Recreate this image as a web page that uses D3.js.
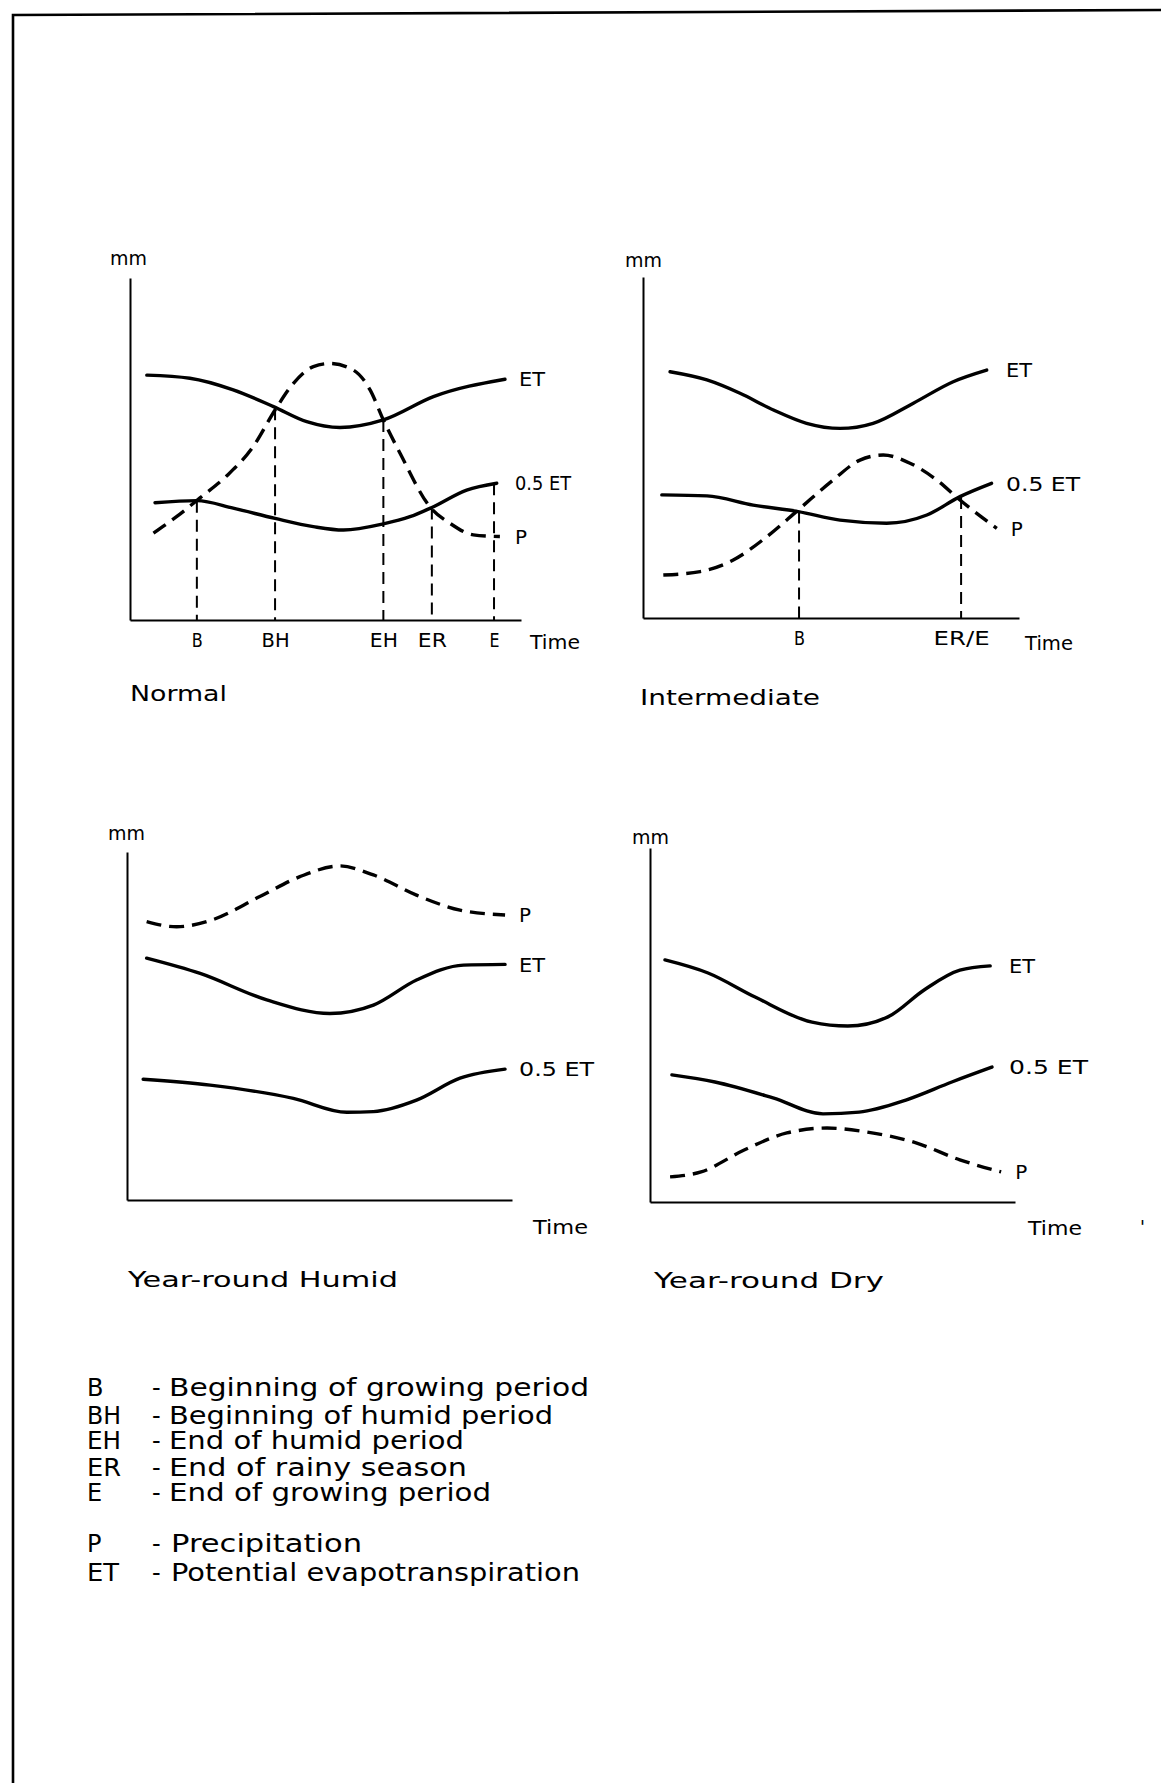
<!DOCTYPE html>
<html><head><meta charset="utf-8">
<script src="https://cdn.jsdelivr.net/npm/d3@7"></script>
<style>html,body{margin:0;padding:0;background:#fff;} svg{display:block;}</style>
</head><body>
<svg id="c" width="1161" height="1783"></svg>
<script>
// ---------------- DATA (relative time 0-100, relative mm 0-100) ----------------
// Normal
const normalEtT   = [4.3,15.3,26.4,36.7,45.2,53.7,64.8,77.6,95.9];
const normalEtV   = [71.6,70.7,67.3,62.4,58.0,56.3,58.5,65.3,70.4];
const normalHalfT = [6.4,17.1,26.4,37.1,46.9,54.6,64.8,71.6,77.2,86.1,93.8];
const normalHalfV = [34.3,34.9,32.7,29.7,27.3,26.3,28.1,30.2,32.9,38.0,40.0];
const normalPT    = [6.0,11.9,17.9,24.7,31.5,37.1,41.8,46.9,51.2,57.1,61.4,64.8,69.1,76.7,81.8,87.8,94.6];
const normalPV    = [25.4,30.2,35.7,42.1,50.7,61.4,69.2,74.1,75.0,73.1,67.3,58.5,48.7,33.1,28.3,24.9,24.4];
const normalMarkT     = [17.1,37.1,64.8,77.2,93.1];
const normalMarkTop   = [34.9,61.9,58.5,32.9,40.0];
const normalMarkLabel = ["B","BH","EH","ER","E"];
// Intermediate
const interEtT   = [7.2,17.0,25.8,34.7,43.5,52.4,61.2,71.9,82.5,91.4];
const interEtV   = [72.2,69.8,65.9,61.0,57.1,55.6,57.1,63.0,69.3,72.7];
const interHalfT = [5.0,17.0,29.3,41.3,52.4,64.8,75.5,84.3,92.7];
const interHalfV = [36.1,35.8,33.1,31.2,28.7,27.8,30.2,35.6,39.5];
const interPT    = [5.4,15.2,24.0,32.9,41.3,50.6,57.7,63.9,71.0,78.1,84.3,94.1];
const interPV    = [12.6,13.6,17.0,23.8,31.7,40.5,46.3,47.8,45.4,40.5,34.6,26.3];
const interMarkT     = [41.5,84.6];
const interMarkTop   = [31.2,35.5];
const interMarkLabel = ["B","ER/E"];
// Year-round Humid
const humidPT    = [5.1,12.9,21.6,34.5,44.9,55.3,64.0,75.2,86.5,98.2];
const humidPV    = [80.0,78.5,80.3,87.2,92.9,96.0,93.4,87.6,83.3,81.9];
const humidEtT   = [5.1,19.0,36.3,52.7,64.0,75.2,87.4,98.2];
const humidEtV   = [69.5,65.1,57.5,53.6,56.0,63.2,67.5,67.7];
const humidHalfT = [4.2,21.6,43.2,57.1,64.0,75.2,86.5,98.2];
const humidHalfV = [34.7,33.0,29.2,25.2,25.4,28.7,35.0,37.6];
// Year-round Dry
const dryEtT   = [4.1,15.9,28.8,44.4,54.2,65.2,75.1,84.9,93.2];
const dryEtV   = [68.4,64.7,57.9,50.8,49.7,52.3,59.9,65.5,66.7];
const dryHalfT = [6.0,17.8,33.7,47.4,57.3,70.1,82.7,93.7];
const dryHalfV = [35.9,33.9,29.4,24.9,25.4,28.8,33.9,38.1];
const dryPT    = [5.5,14.0,25.8,37.5,48.5,59.2,72.9,84.9,96.2];
const dryPV    = [7.1,8.5,14.7,19.5,20.9,19.8,16.7,11.9,8.5];

const panelTitles = ["Normal","Intermediate","Year-round Humid","Year-round Dry"];
const seriesNames = ["ET","0.5 ET","P"];
const axisYLabel = "mm";
const axisXLabel = "Time";

const legendAbbr = ["B","BH","EH","ER","E"];
const legendDesc = ["Beginning of growing period","Beginning of humid period","End of humid period","End of rainy season","End of growing period"];
const legendAbbr2 = ["P","ET"];
const legendDesc2 = ["Precipitation","Potential evapotranspiration"];

// ---------------- LAYOUT ----------------
const zip = (t,v)=>t.map((d,i)=>[d,v[i]]);
const panels = [
  {title:panelTitles[0], x0:130, x1:521, y0:620, y1:278,
   et:zip(normalEtT,normalEtV), half:zip(normalHalfT,normalHalfV), p:zip(normalPT,normalPV),
   markT:normalMarkT, markTop:normalMarkTop, markLabel:normalMarkLabel, markW:[11,28,28,29,10],
   labX:515, halfW:56, mm:[110,258], time:[530,642], timeW:50, titlePos:[130,693], titleW:97},
  {title:panelTitles[1], x0:643, x1:1019, y0:618, y1:277,
   et:zip(interEtT,interEtV), half:zip(interHalfT,interHalfV), p:zip(interPT,interPV),
   markT:interMarkT, markTop:interMarkTop, markLabel:interMarkLabel, markW:[11,56],
   labX:1006, halfW:74, mm:[625,260], time:[1025,643], timeW:48, titlePos:[640,697], titleW:180},
  {title:panelTitles[2], x0:127, x1:512, y0:1200, y1:852,
   et:zip(humidEtT,humidEtV), half:zip(humidHalfT,humidHalfV), p:zip(humidPT,humidPV),
   markT:[], markTop:[], markLabel:[], markW:[],
   labX:518, halfW:75, mm:[108,833], time:[533,1227], timeW:55, titlePos:[128,1279], titleW:270},
  {title:panelTitles[3], x0:650, x1:1015, y0:1202, y1:848,
   et:zip(dryEtT,dryEtV), half:zip(dryHalfT,dryHalfV), p:zip(dryPT,dryPV),
   markT:[], markTop:[], markLabel:[], markW:[],
   labX:1009, halfW:79, mm:[632,837], time:[1028,1228], timeW:54, titlePos:[654,1280], titleW:230}
];

const FONT = "'DejaVu Sans', 'Liberation Sans', sans-serif";
const svg = d3.select("#c");

// frame
svg.append("path")
  .attr("d","M13,1783 L13,15 L1161,10")
  .attr("fill","none").attr("stroke","#000").attr("stroke-width",2.6);

function label(g, txt, x, y, size, w, anchor){
  const t = g.append("text").attr("x",x).attr("y",y).attr("dy","0.36em")
    .attr("font-family",FONT).attr("font-size",size).attr("fill","#000")
    .attr("text-anchor",anchor||"start").text(txt);
  if (w) t.attr("textLength",w).attr("lengthAdjust","spacingAndGlyphs");
  return t;
}

panels.forEach(pn=>{
  const g = svg.append("g");
  const x = d3.scaleLinear().domain([0,100]).range([pn.x0,pn.x1]);
  const y = d3.scaleLinear().domain([0,100]).range([pn.y0,pn.y1]);

  // axes
  const ya = g.append("g").attr("transform",`translate(${pn.x0},0)`)
    .call(d3.axisLeft(y).tickValues([]).tickSizeOuter(0));
  const xa = g.append("g").attr("transform",`translate(0,${pn.y0})`)
    .call(d3.axisBottom(x).tickValues(pn.markT).tickFormat((d,i)=>pn.markLabel[i])
      .tickSize(0).tickPadding(14).tickSizeOuter(0));
  [ya,xa].forEach(a=>a.select(".domain").attr("stroke","#000").attr("stroke-width",2));
  xa.selectAll("text").attr("font-family",FONT).attr("font-size",19).attr("fill","#000")
    .attr("textLength",(d,i)=>pn.markW[i]).attr("lengthAdjust","spacingAndGlyphs");

  // vertical dashed marker lines
  g.selectAll(".mark").data(pn.markT).join("line")
    .attr("x1",d=>x(d)).attr("x2",d=>x(d))
    .attr("y1",(d,i)=>y(pn.markTop[i])).attr("y2",y(0))
    .attr("stroke","#000").attr("stroke-width",2).attr("stroke-dasharray","12,7");

  const line = d3.line().x(d=>x(d[0])).y(d=>y(d[1])).curve(d3.curveMonotoneX);
  g.append("path").datum(pn.et).attr("d",line).attr("fill","none")
    .attr("stroke","#000").attr("stroke-width",3.4).attr("stroke-linecap","round");
  g.append("path").datum(pn.half).attr("d",line).attr("fill","none")
    .attr("stroke","#000").attr("stroke-width",3.4).attr("stroke-linecap","round");
  g.append("path").datum(pn.p).attr("d",line).attr("fill","none")
    .attr("stroke","#000").attr("stroke-width",3.4).attr("stroke-dasharray","15,8");

  // series labels at line ends
  const endLab = (arr, txt, w) => {
    const last = arr[arr.length-1];
    const lx = Math.max(pn.labX, x(last[0])+14);
    label(g, txt, lx, y(last[1]), 20, w);
  };
  endLab(pn.et, seriesNames[0], 26);
  endLab(pn.half, seriesNames[1], pn.halfW);
  endLab(pn.p, seriesNames[2], 12);

  label(g, axisYLabel, pn.mm[0], pn.mm[1], 19, 37);
  label(g, axisXLabel, pn.time[0], pn.time[1], 19, pn.timeW);
  label(g, pn.title, pn.titlePos[0], pn.titlePos[1], 22, pn.titleW);
});

// stray mark near bottom right panel
label(svg, "'", 1140, 1227, 18);

// legend
const lg = svg.append("g");
const rowsY = [1387,1415,1440,1467,1492];
const descW = [420,384,295,298,322];
legendAbbr.forEach((a,i)=>{
  label(lg, a, 87, rowsY[i], 24, a.length>1?34:null);
  label(lg, "-", 152, rowsY[i], 24);
  label(lg, legendDesc[i], 169, rowsY[i], 24, descW[i]);
});
const rowsY2 = [1543,1572];
const descW2 = [191,409];
legendAbbr2.forEach((a,i)=>{
  label(lg, a, 87, rowsY2[i], 24, a.length>1?32:null);
  label(lg, "-", 152, rowsY2[i], 24);
  label(lg, legendDesc2[i], 171, rowsY2[i], 24, descW2[i]);
});
</script>
</body></html>
